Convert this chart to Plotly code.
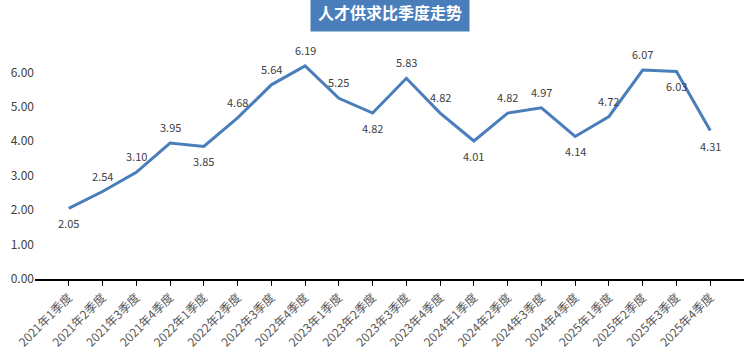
import plotly.graph_objects as go

categories = ["2021年1季度", "2021年2季度", "2021年3季度", "2021年4季度",
              "2022年1季度", "2022年2季度", "2022年3季度", "2022年4季度",
              "2023年1季度", "2023年2季度", "2023年3季度", "2023年4季度",
              "2024年1季度", "2024年2季度", "2024年3季度", "2024年4季度",
              "2025年1季度", "2025年2季度", "2025年3季度", "2025年4季度"]
values = [2.05, 2.54, 3.10, 3.95, 3.85, 4.68, 5.64, 6.19, 5.25, 4.82,
          5.83, 4.82, 4.01, 4.82, 4.97, 4.14, 4.72, 6.07, 6.03, 4.31]
label_pos = ["below", "above", "above", "above", "below", "above", "above", "above", "above", "below",
             "above", "above", "below", "above", "above", "below", "above", "above", "below", "below"]
y_ticks = [0, 1, 2, 3, 4, 5, 6]

font_family = "Noto Sans CJK SC, Microsoft YaHei, sans-serif"
line_color = "#4a7ebb"

fig = go.Figure()
fig.add_trace(go.Scatter(
    x=list(range(len(categories))), y=values, mode="lines",
    line=dict(color=line_color, width=3), hoverinfo="skip", showlegend=False,
))

for i, (v, p) in enumerate(zip(values, label_pos)):
    fig.add_annotation(
        x=i, y=v, text=f"{v:.2f}", showarrow=False,
        yshift=16 if p == "above" else -15,
        font=dict(family=font_family, size=11, color="#404040"),
    )

fig.add_annotation(
    x=0.5, xref="paper", y=1.0, yref="paper", yanchor="bottom", yshift=6,
    text="<b>人才供求比季度走势</b>", showarrow=False,
    bgcolor=line_color, borderpad=7,
    font=dict(family=font_family, size=16, color="white"),
)

fig.update_layout(
    width=750, height=356,
    margin=dict(l=35, r=6, t=38, b=75),
    paper_bgcolor="white", plot_bgcolor="white",
    font=dict(family=font_family),
    xaxis=dict(
        range=[-1, 20.0], tickmode="array", tickvals=list(range(len(categories))),
        ticktext=categories, tickangle=-45, showgrid=False, zeroline=False,
        showline=True, linecolor="black", linewidth=1.5,
        ticks="outside", ticklen=5, tickcolor="black",
        tickfont=dict(family=font_family, size=12, color="#595959"),
    ),
    yaxis=dict(
        range=[0, 7], tickvals=y_ticks, tickformat=".2f", showgrid=False,
        zeroline=False, showline=False,
        tickfont=dict(family=font_family, size=12, color="#404040"),
    ),
)

fig.write_html("out.html")
